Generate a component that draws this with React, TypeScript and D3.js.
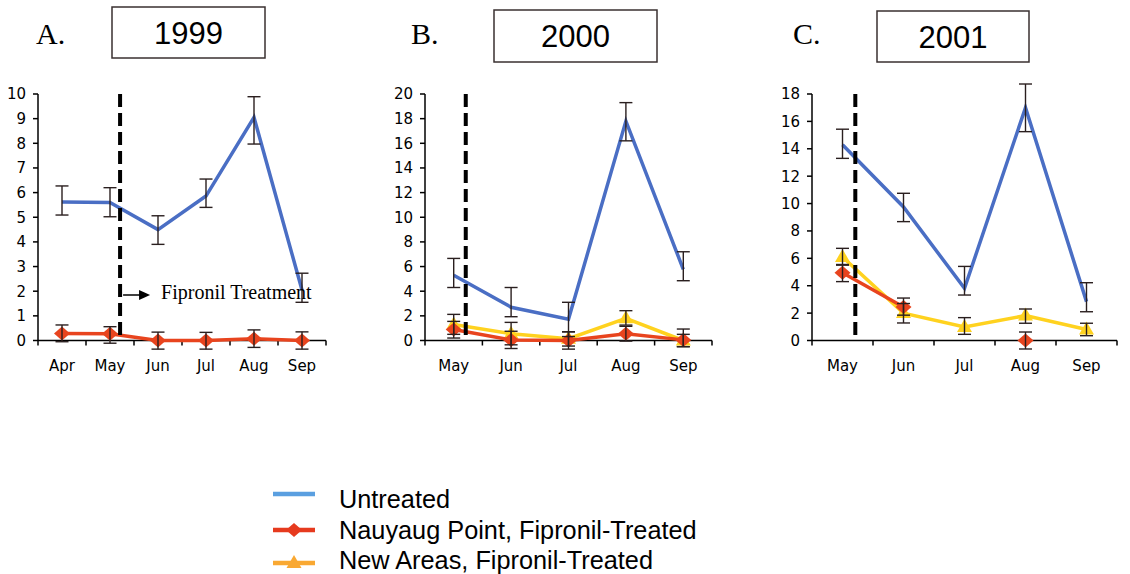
import React from "react";
import * as d3 from "d3";

// months per panel
const monthsA = ["Apr", "May", "Jun", "Jul", "Aug", "Sep"];
const monthsBC = ["May", "Jun", "Jul", "Aug", "Sep"];

// 1999
const untreatedA = [5.62, 5.6, 4.5, 5.86, 9.05, 2.05];
const untreatedAUp = [0.65, 0.6, 0.56, 0.69, 0.84, 0.68];
const untreatedADown = [0.53, 0.58, 0.6, 0.46, 1.08, 0.5];
const nauyaugA = [0.28, 0.27, 0, 0, 0.07, 0];
const nauyaugAUp = [0.35, 0.29, 0.34, 0.33, 0.36, 0.35];
const nauyaugADown = [0.33, 0.38, 0.35, 0.35, 0.35, 0.35];

// 2000
const untreatedB = [5.3, 2.7, 1.72, 17.8, 5.77];
const untreatedBUp = [1.36, 1.6, 1.38, 1.5, 1.43];
const untreatedBDown = [1.0, 0.77, 1.4, 1.6, 0.92];
const newAreasB = [1.3, 0.55, 0.15, 1.8, 0.0];
const newAreasBUp = [0.82, 0.92, 0.56, 0.62, 0.5];
const newAreasBDown = [0.8, 0.9, 0.6, 0.55, 0.5];
const nauyaugB = [0.9, 0.05, 0.0, 0.55, 0.05];
const nauyaugBUp = [0.65, 0.7, 0.7, 0.6, 0.88];
const nauyaugBDown = [0.7, 0.7, 0.7, 0.6, 0.55];

// 2001
const untreatedC = [14.3, 9.75, 3.81, 17.0, 2.84];
const untreatedCUp = [1.13, 1.0, 1.6, 1.73, 1.38];
const untreatedCDown = [1.0, 1.07, 0.49, 1.75, 0.74];
const newAreasC = [6.1, 2.0, 0.98, 1.82, 0.8];
const newAreasCUp = [0.63, 0.7, 0.69, 0.48, 0.46];
const newAreasCDown = [0.6, 0.72, 0.53, 0.56, 0.45];
const nauyaugC = [4.95, 2.45, null, 0, null];
const nauyaugCUp = [0.6, 0.65, null, 0.62, null];
const nauyaugCDown = [0.65, 0.6, null, 0.62, null];

const legendLabels = [
  "Untreated",
  "Nauyaug Point, Fipronil-Treated",
  "New Areas, Fipronil-Treated",
];

const BLUE = "#4a6ec4";
const RED = "#e8441e";
const YELLOW = "#ffd21f";
const ERR = "#2a1f1f";

const panels = [
  {
    letter: "A.", year: "1999", months: monthsA, yMax: 10, yStep: 1,
    left: 38, right: 326, letterX: 36, box: [112, 7, 153, 51], note: true,
    series: [
      { v: untreatedA, up: untreatedAUp, dn: untreatedADown, color: BLUE, marker: "none" },
      { v: nauyaugA, up: nauyaugAUp, dn: nauyaugADown, color: RED, marker: "diamond" },
    ],
  },
  {
    letter: "B.", year: "2000", months: monthsBC, yMax: 20, yStep: 2,
    left: 425, right: 712, letterX: 411, box: [494, 10, 163, 52], note: false,
    series: [
      { v: untreatedB, up: untreatedBUp, dn: untreatedBDown, color: BLUE, marker: "none" },
      { v: newAreasB, up: newAreasBUp, dn: newAreasBDown, color: YELLOW, marker: "triangle" },
      { v: nauyaugB, up: nauyaugBUp, dn: nauyaugBDown, color: RED, marker: "diamond" },
    ],
  },
  {
    letter: "C.", year: "2001", months: monthsBC, yMax: 18, yStep: 2,
    left: 812, right: 1117, letterX: 793, box: [877, 11, 152, 51], note: false,
    series: [
      { v: untreatedC, up: untreatedCUp, dn: untreatedCDown, color: BLUE, marker: "none" },
      { v: newAreasC, up: newAreasCUp, dn: newAreasCDown, color: YELLOW, marker: "triangle" },
      { v: nauyaugC, up: nauyaugCUp, dn: nauyaugCDown, color: RED, marker: "diamond" },
    ],
  },
];

const TOP = 94;
const BOTTOM = 340.5;
const tickFont = "'DejaVu Sans', Verdana, sans-serif";

const markerPath = (kind: string, cx: number, cy: number) => {
  if (kind === "diamond")
    return `M${cx},${cy - 7}L${cx + 8},${cy}L${cx},${cy + 7}L${cx - 8},${cy}Z`;
  if (kind === "triangle")
    return `M${cx},${cy - 8}L${cx + 7.5},${cy + 5}L${cx - 7.5},${cy + 5}Z`;
  return "";
};

const Panel = ({ p }: { p: any }) => {
  const x = d3.scaleBand().domain(p.months).range([p.left, p.right]).padding(0);
  const y = d3.scaleLinear().domain([0, p.yMax]).range([BOTTOM, TOP]);
  const bw = x.bandwidth();
  const cx = (i: number) => (x(p.months[i]) as number) + bw / 2;
  const yTicks = d3.range(0, p.yMax + 0.001, p.yStep);
  const bounds = [...p.months.map((m: string) => x(m) as number), p.right];
  // treatment line sits just after May
  const dashX = (x("May") as number) + bw * 0.71;

  const line = d3
    .line<number | null>()
    .defined((d) => d != null)
    .x((_, i) => cx(i))
    .y((d) => y(d as number));

  const [bx, by, bW, bH] = p.box;

  return (
    <g>
      <text x={p.letterX} y={44} fontFamily="'Liberation Serif', 'Times New Roman', serif" fontSize={30}>
        {p.letter}
      </text>
      <rect x={bx} y={by} width={bW} height={bH} fill="none" stroke="#3a3030" strokeWidth={1.5} />
      <text x={bx + bW / 2} y={by + bH / 2 + 11} textAnchor="middle"
        fontFamily="'Liberation Sans', Arial, sans-serif" fontSize={31}>
        {p.year}
      </text>

      {/* axes */}
      <line x1={p.left} x2={p.left} y1={TOP} y2={BOTTOM} stroke="#000" strokeWidth={1.5} />
      <line x1={p.left} x2={p.right} y1={BOTTOM} y2={BOTTOM} stroke="#000" strokeWidth={1.5} />
      {yTicks.map((t) => (
        <g key={t}>
          <line x1={p.left - 5} x2={p.left} y1={y(t)} y2={y(t)} stroke="#000" strokeWidth={1.5} />
          <text x={p.left - 12} y={y(t)} dy="0.36em" textAnchor="end" fontFamily={tickFont} fontSize={15}>
            {t}
          </text>
        </g>
      ))}
      {bounds.map((b: number, i: number) => (
        <line key={i} x1={b} x2={b} y1={BOTTOM} y2={BOTTOM + 5} stroke="#000" strokeWidth={1.5} />
      ))}
      {p.months.map((m: string, i: number) => (
        <text key={m} x={cx(i)} y={371} textAnchor="middle" fontFamily={tickFont} fontSize={15}>
          {m}
        </text>
      ))}

      {/* series lines and markers */}
      {p.series.map((s: any, si: number) => (
        <g key={si}>
          <path d={line(s.v) || ""} fill="none" stroke={s.color} strokeWidth={3.5} strokeLinejoin="miter" />
          {s.v.map((v: number | null, i: number) =>
            v == null || s.marker === "none" ? null : (
              <path key={i} d={markerPath(s.marker, cx(i), y(v))} fill={s.color} />
            )
          )}
        </g>
      ))}

      {/* error bars */}
      {p.series.map((s: any, si: number) =>
        s.v.map((v: number | null, i: number) => {
          if (v == null) return null;
          const y1 = y(v + s.up[i]);
          const y2 = y(v - s.dn[i]);
          const c = cx(i);
          return (
            <g key={`${si}-${i}`} stroke={ERR} strokeWidth={1.4}>
              <line x1={c} x2={c} y1={y1} y2={y2} />
              <line x1={c - 6.5} x2={c + 6.5} y1={y1} y2={y1} />
              <line x1={c - 6.5} x2={c + 6.5} y1={y2} y2={y2} />
            </g>
          );
        })
      )}

      {/* treatment start */}
      <line x1={dashX} x2={dashX} y1={TOP} y2={BOTTOM} stroke="#000" strokeWidth={4} strokeDasharray="13 6" />

      {p.note && (
        <g>
          <line x1={dashX + 3} x2={dashX + 20} y1={295} y2={295} stroke="#000" strokeWidth={1.5} />
          <path d={`M${dashX + 19},${290}L${dashX + 30},${295}L${dashX + 19},${300}Z`} fill="#000" />
          <text x={dashX + 41} y={299} fontFamily="'Liberation Serif', 'Times New Roman', serif" fontSize={20}>
            Fipronil Treatment
          </text>
        </g>
      )}
    </g>
  );
};

const legendColors = ["#5a9fe0", "#e63a1e", "#f9a832"];
const legendMarkers = ["none", "diamond", "triangle"];
const legendLineY = [494, 530, 563];
const legendTextY = [508, 539, 569];

export default function App() {
  return (
    <svg width={1130} height={574} style={{ position: "absolute", left: 0, top: 0, background: "#fff" }}>
      <rect width={1130} height={574} fill="#fff" />
      {panels.map((p) => (
        <Panel key={p.year} p={p} />
      ))}
      {legendLabels.map((label, i) => (
        <g key={label}>
          <line x1={273} x2={315} y1={legendLineY[i]} y2={legendLineY[i]} stroke={legendColors[i]} strokeWidth={4.5} />
          {legendMarkers[i] !== "none" && (
            <path d={markerPath(legendMarkers[i], 294, legendLineY[i])} fill={legendColors[i]} />
          )}
          <text x={339} y={legendTextY[i]} fontFamily="'Liberation Sans', Arial, sans-serif" fontSize={25.3}>
            {label}
          </text>
        </g>
      ))}
    </svg>
  );
}
